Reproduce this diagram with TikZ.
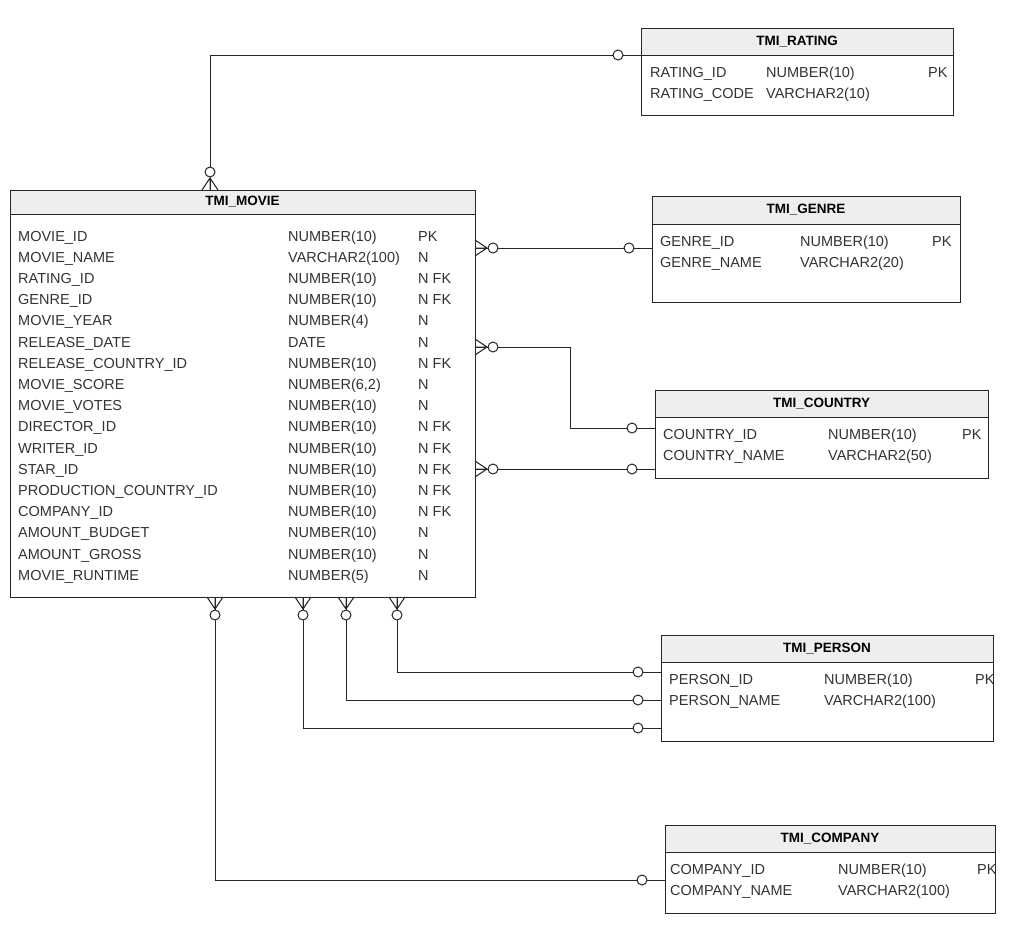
\documentclass[tikz,border=0pt]{standalone}
\usepackage{fontspec}
\setmainfont{Liberation Sans}
\definecolor{txt}{HTML}{333333}
\definecolor{hdr}{HTML}{EEEEEE}
\tikzset{
  tbl/.style={draw=black!85,line width=1pt},
  hdrbox/.style={draw=black!85,fill=hdr,line width=1pt},
  ttl/.style={font=\fontsize{13.5}{15}\selectfont\bfseries,text=black},
  cell/.style={anchor=base west,inner sep=0pt,font=\fontsize{14.5}{16}\selectfont,text=txt},
  conn/.style={line width=1pt,draw=black!85},
  pics/crowo/.style={code={
    \draw[conn] (12,0) -- (0,-8) (12,0) -- (0,0) (12,0) -- (0,8);
    \draw[conn,fill=white] (18,0) circle (5);}},
  pics/oneo/.style={code={
    \draw[conn,fill=white] (23,0) circle (5);}}
}
\begin{document}
\begin{tikzpicture}[x=1pt,y=-1pt]
\useasboundingbox (0,0) rectangle (1024,926);
\newcommand{\entity}[7]{% id,title,x1,y1,x2,yh,y2
  \draw[tbl,fill=white] (#3,#6) rectangle (#5,#7);
  \draw[hdrbox] (#3,#4) rectangle (#5,#6) node[ttl,midway] (#1t) {#2};}
\entity{movie}{TMI\_MOVIE}{10}{190}{475}{214}{597}
\entity{rating}{TMI\_RATING}{641}{28}{953}{55}{115}
\entity{genre}{TMI\_GENRE}{652}{196}{960}{224}{302}
\entity{country}{TMI\_COUNTRY}{655}{390}{988}{417}{478}
\entity{person}{TMI\_PERSON}{661}{635}{993}{662}{741}
\entity{company}{TMI\_COMPANY}{665}{825}{995}{852}{913}
% movie rows
\foreach \n/\t/\f [count=\i from 0] in {MOVIE\_ID/NUMBER(10)/PK,MOVIE\_NAME/VARCHAR2(100)/N,RATING\_ID/NUMBER(10)/N FK,GENRE\_ID/NUMBER(10)/N FK,MOVIE\_YEAR/NUMBER(4)/N,RELEASE\_DATE/DATE/N,RELEASE\_COUNTRY\_ID/NUMBER(10)/N FK,MOVIE\_SCORE/{NUMBER(6,2)}/N,MOVIE\_VOTES/NUMBER(10)/N,DIRECTOR\_ID/NUMBER(10)/N FK,WRITER\_ID/NUMBER(10)/N FK,STAR\_ID/NUMBER(10)/N FK,PRODUCTION\_COUNTRY\_ID/NUMBER(10)/N FK,COMPANY\_ID/NUMBER(10)/N FK,AMOUNT\_BUDGET/NUMBER(10)/N,AMOUNT\_GROSS/NUMBER(10)/N,MOVIE\_RUNTIME/NUMBER(5)/N}{
  \node[cell] (mn\i) at (18,{241+21.2*\i}) {\n};
  \node[cell] (mt\i) at (288,{241+21.2*\i}) {\t};
  \node[cell] (mf\i) at (418,{241+21.2*\i}) {\f};
}
\newcommand{\tworows}[9]{% x1,x2,x3,y1,y2,n1,t1,n2,t2
  \node[cell] at (#1,#4) {#6};
  \node[cell] at (#2,#4) {#7};
  \node[cell] at (#3,#4) {PK};
  \node[cell] at (#1,#5) {#8};
  \node[cell] at (#2,#5) {#9};}
\tworows{650}{766}{928}{77}{98}{RATING\_ID}{NUMBER(10)}{RATING\_CODE}{VARCHAR2(10)}
\tworows{660}{800}{932}{246}{267}{GENRE\_ID}{NUMBER(10)}{GENRE\_NAME}{VARCHAR2(20)}
\tworows{663}{828}{962}{439}{460}{COUNTRY\_ID}{NUMBER(10)}{COUNTRY\_NAME}{VARCHAR2(50)}
\tworows{669}{824}{975}{684}{705}{PERSON\_ID}{NUMBER(10)}{PERSON\_NAME}{VARCHAR2(100)}
\tworows{670}{838}{977}{874}{895}{COMPANY\_ID}{NUMBER(10)}{COMPANY\_NAME}{VARCHAR2(100)}
% connector endpoints
\coordinate (mR) at (210,190); \coordinate (rR) at (641,55);
\coordinate (mG) at (475,248); \coordinate (gG) at (652,248);
\coordinate (mC) at (475,347); \coordinate (cC) at (655,428);
\coordinate (mS) at (475,469); \coordinate (cS) at (655,469);
\coordinate (mP1) at (397,597); \coordinate (pP1) at (661,672);
\coordinate (mP2) at (346,597); \coordinate (pP2) at (661,700);
\coordinate (mP3) at (303,597); \coordinate (pP3) at (661,728);
\coordinate (mK) at (215,597); \coordinate (kK) at (665,880);
\draw[conn] (mR) |- (rR);
\draw[conn] (mG) -- (gG);
\draw[conn] (mC) -- (570,347) |- (cC);
\draw[conn] (mS) -- (cS);
\draw[conn] (mP1) |- (pP1);
\draw[conn] (mP2) |- (pP2);
\draw[conn] (mP3) |- (pP3);
\draw[conn] (mK) |- (kK);
\pic[rotate=90] at (mR) {crowo};
\pic at (mG) {crowo}; \pic at (mC) {crowo}; \pic at (mS) {crowo};
\foreach \c in {mP1,mP2,mP3,mK} \pic[rotate=-90] at (\c) {crowo};
\foreach \c in {rR,gG,cC,cS,pP1,pP2,pP3,kK} \pic[rotate=180] at (\c) {oneo};
\end{tikzpicture}
\end{document}
